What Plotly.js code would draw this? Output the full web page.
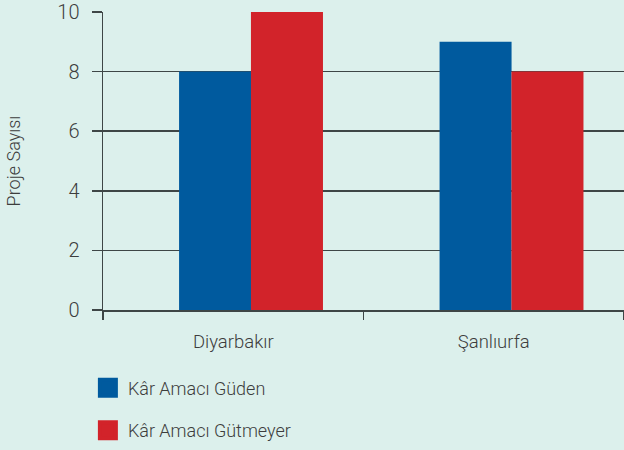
<!DOCTYPE html>
<html>
<head>
<meta charset="utf-8">
<script src="https://cdn.plot.ly/plotly-3.0.1.min.js"></script>
<style>html,body{margin:0;padding:0;background:#dcf0ec;}</style>
</head>
<body>
<div id="chart" style="width:624px;height:450px;"></div>
<script>
const categories = ["Diyarbakır", "Şanlıurfa"];
const seriesNames = ["Kâr Amacı Güden", "Kâr Amacı Gütmeyer"];
const guden = [8, 9];
const gutmeyer = [10, 8];
const yTicks = [0, 2, 4, 6, 8, 10];
const colors = ["#005a9e", "#d2232a"];

const font = {family: "Roboto, 'DejaVu Sans', sans-serif", color: "#3d3d3d", weight: 300};

const traces = [
  {type: "bar", x: categories, y: guden, name: seriesNames[0], marker: {color: colors[0]},
   offset: -0.208, width: 0.2764, showlegend: false, hoverinfo: "skip"},
  {type: "bar", x: categories, y: gutmeyer, name: seriesNames[1], marker: {color: colors[1]},
   offset: 0.068, width: 0.2764, showlegend: false, hoverinfo: "skip"},
  {type: "scatter", mode: "markers", x: [null], y: [null], name: seriesNames[0], legendgroup: "a",
   marker: {symbol: "square", size: 16, color: colors[0], line: {width: 4, color: colors[0]}}},
  {type: "scatter", mode: "markers", x: [null], y: [null], name: seriesNames[1], legendgroup: "b",
   marker: {symbol: "square", size: 16, color: colors[1], line: {width: 4, color: colors[1]}}}
];

const layout = {
  width: 624, height: 450,
  paper_bgcolor: "#dcf0ec", plot_bgcolor: "#dcf0ec",
  margin: {l: 103, r: 0, t: 12, b: 140},
  font: font,
  barmode: "overlay",
  showlegend: true,
  legend: {x: -0.029, xanchor: "left", y: -0.2, yanchor: "top", orientation: "v",
           traceorder: "grouped", tracegroupgap: 16,
           font: {family: font.family, size: 18, color: "#3d3d3d", weight: 300},
           bgcolor: "rgba(0,0,0,0)"},
  xaxis: {type: "category", range: [-0.5, 1.5], tickson: "boundaries", ticks: "outside", ticklen: 8,
          tickwidth: 1.5, tickcolor: "#3e4646", showline: true, linecolor: "#3e4646", linewidth: 1.5,
          showgrid: false, zeroline: false, tickfont: {size: 18.5, color: "#3d3d3d"}, ticklabelstandoff: 14,
          fixedrange: true},
  yaxis: {range: [0, 10], tickvals: yTicks, ticks: "outside", ticklen: 10, tickwidth: 1.5,
          tickcolor: "#3e4646", showline: true, linecolor: "#3e4646", linewidth: 1.5,
          showgrid: true, gridcolor: "#3e4646", gridwidth: 1.5, zeroline: false,
          tickfont: {size: 20, color: "#3d3d3d"}, ticklabelstandoff: 8,
          title: {text: "Proje Sayısı", font: {size: 18, color: "#3d3d3d"}, standoff: 32},
          fixedrange: true}
};

Plotly.newPlot("chart", traces, layout, {displayModeBar: false, staticPlot: true});
</script>
</body>
</html>
